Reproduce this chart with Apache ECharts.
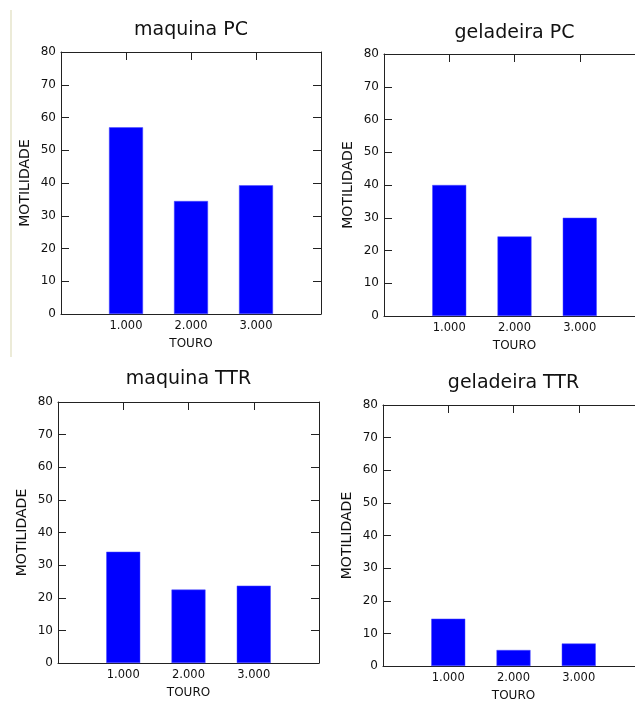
<!DOCTYPE html>
<html>
<head>
<meta charset="utf-8">
<script src="https://cdn.jsdelivr.net/npm/echarts@6/dist/echarts.min.js"></script>
<style>
  html, body { margin: 0; padding: 0; background: #fff; }
  #chart { width: 635px; height: 704px; }
</style>
</head>
<body>
<div id="chart"></div>
<script>
// touro (bull) ids on the x axis
var touro = [1, 2, 3];
// motilidade per touro
var maquinaPC = [57, 34.5, 39.3];
var geladeiraPC = [40, 24.3, 30];
var maquinaTTR = [34.1, 22.5, 23.7];
var geladeiraTTR = [14.5, 4.9, 6.9];
var titulos = ['maquina PC', 'geladeira PC', 'maquina TTR', 'geladeira TTR'];
var valores = [maquinaPC, geladeiraPC, maquinaTTR, geladeiraTTR];

// plot boxes in pixels (the right-hand ones run past the window edge)
var grids = [
    {left: 61, top: 52, width: 260, height: 262, outerBoundsMode: 'none'},
    {left: 384, top: 54, width: 261, height: 262, outerBoundsMode: 'none'},
    {left: 58, top: 402, width: 261, height: 261, outerBoundsMode: 'none'},
    {left: 383, top: 405, width: 261, height: 261, outerBoundsMode: 'none'}
];
var titleGap = [12, 11, 13, 12];

var font = 'DejaVu Sans, Verdana, sans-serif';
var txt = '#111';
var lineStyle = {color: '#222', width: 1};
var axisLine = {show: true, onZero: false, lineStyle: lineStyle};

var xAxes = [], yAxes = [], series = [];

grids.forEach(function (g, i) {
    // bottom axis with labels
    xAxes.push({
        gridIndex: i, type: 'value', position: 'bottom', min: 0, max: 4, interval: 1,
        axisLine: axisLine,
        axisTick: {show: false},
        splitLine: {show: false},
        axisLabel: {
            margin: 6, fontSize: 11.5, color: txt, fontFamily: font,
            formatter: function (v) { return (v >= 1 && v <= 3) ? v.toFixed(3) : ''; }
        },
        name: 'TOURO', nameLocation: 'middle', nameGap: 24,
        nameTextStyle: {fontSize: 12, color: txt, fontFamily: font}
    });
    // top axis: ticks only, carries the panel title
    xAxes.push({
        gridIndex: i, type: 'value', position: 'top', min: 0, max: 4, interval: 1,
        axisLine: axisLine,
        axisTick: {show: true, inside: true, length: 8, lineStyle: lineStyle},
        splitLine: {show: false},
        axisLabel: {show: false},
        name: titulos[i], nameLocation: 'middle', nameGap: titleGap[i],
        nameTextStyle: {fontSize: 19, color: txt, fontFamily: font, verticalAlign: 'bottom'}
    });
    yAxes.push({
        gridIndex: i, type: 'value', position: 'left', min: 0, max: 80, interval: 10,
        axisLine: axisLine,
        axisTick: {show: true, inside: true, length: 8, lineStyle: lineStyle},
        splitLine: {show: false},
        axisLabel: {margin: 5, fontSize: 12, color: txt, fontFamily: font},
        name: 'MOTILIDADE', nameLocation: 'middle', nameGap: 29,
        nameTextStyle: {fontSize: 14, color: txt, fontFamily: font}
    });
    // right frame side; for the right column it lies outside the window
    yAxes.push({
        gridIndex: i, type: 'value', position: 'right', min: 0, max: 80, interval: 10,
        show: i % 2 === 0,
        axisLine: axisLine,
        axisTick: {show: true, inside: true, length: 8, lineStyle: lineStyle},
        splitLine: {show: false},
        axisLabel: {show: false}
    });
    series.push({
        type: 'bar',
        xAxisIndex: i * 2,
        yAxisIndex: i * 2,
        barWidth: 34,
        itemStyle: {color: '#0000ff', borderColor: '#4d4dff', borderWidth: 0.5},
        data: touro.map(function (t, j) { return [t, valores[i][j]]; })
    });
});

var chart = echarts.init(document.getElementById('chart'));
chart.setOption({
    animation: false,
    backgroundColor: '#fff',
    grid: grids,
    xAxis: xAxes,
    yAxis: yAxes,
    series: series,
    graphic: [{
        type: 'line',
        shape: {x1: 11, y1: 10, x2: 11, y2: 357},
        style: {stroke: '#ecebd8', lineWidth: 2}
    }]
});
</script>
</body>
</html>
